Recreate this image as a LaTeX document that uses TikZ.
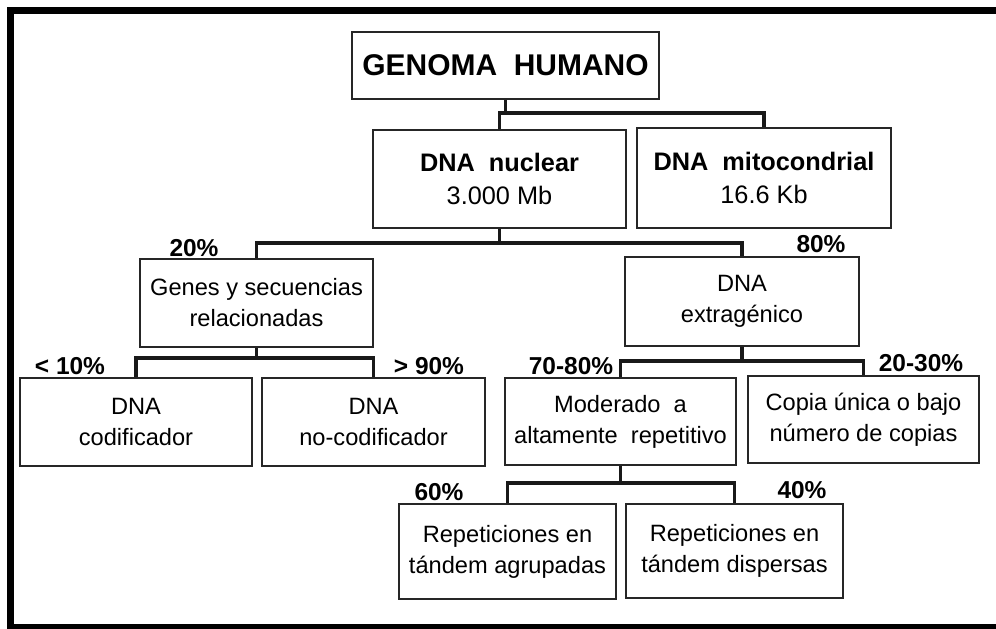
\documentclass[tikz,border=0pt]{standalone}
\usepackage{fontspec}
\setmainfont{Liberation Sans}
\newlength\px
\setlength\px{0.025cm}
\tikzset{
  box/.style={draw=black!85, line width=1.1pt, align=center, inner sep=0pt,
    font=\fontsize{16.8}{22}\selectfont},
  topbox/.style={box, font=\fontsize{18}{23.5}\selectfont},
  pct/.style={inner sep=0pt, font=\fontsize{17.4}{20}\selectfont\bfseries},
  link/.style={line width=2.6pt, black!90},
  frame/.style={line width=5pt},
}

\begin{document}
\begin{tikzpicture}[x=1\px, y=-1\px]
    \useasboundingbox (0,0) rectangle (996,629);
    \draw[frame] (1010,10.5) -- (10.5,10.5) -- (10.5,627.5) -- (1010,627.5);

    % boxes
    \node[box, minimum width=307\px, minimum height=67\px,
      font=\fontsize{21.3}{25}\selectfont\bfseries] (genoma) at (505.5,65.5) {GENOMA\ \ HUMANO};
    \node[topbox, minimum width=253\px, minimum height=98\px] (nuclear) at (499.5,179)
      {\textbf{DNA\ \ nuclear}\\3.000 Mb};
    \node[topbox, minimum width=254\px, minimum height=100\px] (mito) at (764,178)
      {\textbf{DNA\ \ mitocondrial}\\16.6 Kb};
    \node[box, minimum width=233\px, minimum height=88\px] (genes) at (256.5,303)
      {Genes y secuencias\\relacionadas};
    \node[box, minimum width=234\px, minimum height=89\px] (extra) at (742,301.5)
      {DNA\\extragénico};
    \node[box, minimum width=232\px, minimum height=88\px] (cod) at (136,422)
      {DNA\\codificador};
    \node[box, minimum width=223\px, minimum height=88\px] (nocod) at (373.5,422)
      {DNA\\no-codificador};
    \node[box, minimum width=231\px, minimum height=87\px] (moder) at (620.5,421.5)
      {Moderado\ \ a\\altamente\ \ repetitivo};
    \node[box, minimum width=231\px, minimum height=87\px] (copia) at (863.5,419.5)
      {Copia única o bajo\\número de copias};
    \node[box, minimum width=217\px, minimum height=95\px] (agrup) at (507.5,551.5)
      {Repeticiones en\\tándem agrupadas};
    \node[box, minimum width=217\px, minimum height=94\px] (disp) at (734.5,551)
      {Repeticiones en\\tándem dispersas};

    % levels of the bars
    \coordinate (b1) at (0,113);
    \coordinate (b2) at (0,243);
    \coordinate (b3) at (0,358);
    \coordinate (b4) at (0,361);
    \coordinate (b5) at (0,483);

    % connectors
    \draw[link] (genoma.south) -- (genoma.south |- b1);
    \draw[link] (nuclear.north) |- (mito.north |- b1) -- (mito.north);
    \draw[link] (nuclear.south) -- (nuclear.south |- b2);
    \draw[link] (genes.north) |- (extra.north |- b2) -- (extra.north);
    \draw[link] (genes.south) -- (genes.south |- b3);
    \draw[link] (cod.north) |- (nocod.north |- b3) -- (nocod.north);
    \draw[link] (extra.south) -- (extra.south |- b4);
    \draw[link] (moder.north) |- (copia.north |- b4) -- (copia.north);
    \draw[link] (moder.south) -- (moder.south |- b5);
    \draw[link] (agrup.north) |- (disp.north |- b5) -- (disp.north);

    % percentages
    \node[pct] (p20) at (194,248) {20\%};
    \node[pct] (p80) at (821,244) {80\%};
    \node[pct] (p10) at (70,366) {< 10\%};
    \node[pct] (p90) at (429,366) {> 90\%};
    \node[pct] (p7080) at (571,366) {70-80\%};
    \node[pct] (p2030) at (921,363) {20-30\%};
    \node[pct] (p60) at (439,492) {60\%};
    \node[pct] (p40) at (802,490) {40\%};
\end{tikzpicture}
\end{document}
